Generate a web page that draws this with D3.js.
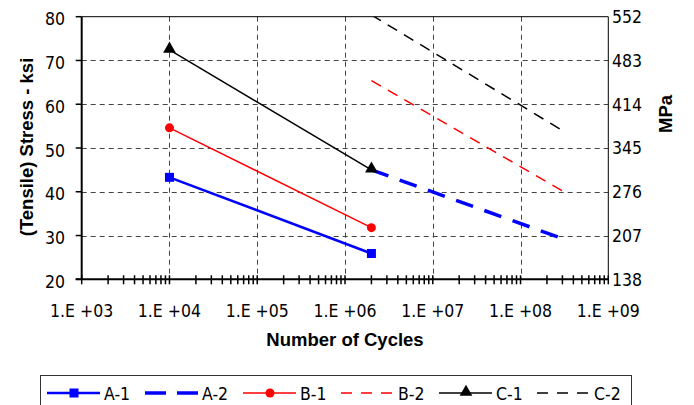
<!DOCTYPE html>
<html>
<head>
<meta charset="utf-8">
<script src="https://cdn.jsdelivr.net/npm/d3@7"></script>
<style>
  body { margin: 0; background: #fff; }
  svg { display: block; }
  .tick-label { font-family: "DejaVu Sans Condensed", sans-serif; font-stretch: condensed; font-size: 17.5px; fill: #000; }
  .title { font-family: "Liberation Sans", Arial, sans-serif; font-weight: bold; font-size: 18.5px; fill: #000; }
</style>
</head>
<body>
<script>
// cycles at which each pair of points sits
var cycles1 = [1e4, 2e6];
var cycles2 = [2e6, 3e8];

// stress in ksi
var a1 = [43.3, 25.9];
var a2 = [45.0, 29.3];
var b1 = [54.6, 31.8];
var b2 = [65.4, 40.2];
var c1 = [72.4, 45.0];
var c2 = [80.4, 54.0];

var ksiTicks = [20, 30, 40, 50, 60, 70, 80];
var mpaTicks = [138, 207, 276, 345, 414, 483, 552];
var cycleTicks = [1e3, 1e4, 1e5, 1e6, 1e7, 1e8, 1e9];
var cycleLabels = ["1.E +03", "1.E +04", "1.E +05", "1.E +06", "1.E +07", "1.E +08", "1.E +09"];

var series = [
  { name: "A-1", x: cycles1, y: a1, color: "#0000ff", width: 2.5, dash: null, marker: "square" },
  { name: "A-2", x: cycles2, y: a2, color: "#0000ff", width: 3.5, dash: "18,12", marker: null },
  { name: "B-1", x: cycles1, y: b1, color: "#ff0000", width: 1.5, dash: null, marker: "circle" },
  { name: "B-2", x: cycles2, y: b2, color: "#ff0000", width: 1.5, dash: "11,8", marker: null },
  { name: "C-1", x: cycles1, y: c1, color: "#000000", width: 1.5, dash: null, marker: "triangle" },
  { name: "C-2", x: cycles2, y: c2, color: "#000000", width: 1.5, dash: "11,8", marker: null }
];

var width = 694, height = 405;
var pLeft = 81.7, pRight = 608.3, pTop = 16.7, pBottom = 279.3;

var svg = d3.select("body").append("svg")
  .attr("width", width)
  .attr("height", height);

var x = d3.scaleLog().domain([1e3, 1e9]).range([pLeft, pRight]);
var y = d3.scaleLinear().domain([20, 80]).range([pBottom, pTop]);
var yR = d3.scaleLinear().domain([20 * 6.895, 80 * 6.895]).range([pBottom, pTop]);

svg.append("clipPath").attr("id", "plot")
  .append("rect").attr("x", pLeft).attr("y", pTop)
  .attr("width", pRight - pLeft).attr("height", pBottom - pTop);

// grid
svg.append("g").selectAll("line")
  .data(ksiTicks.slice(1, -1))
  .enter().append("line")
  .attr("x1", pLeft).attr("x2", pRight)
  .attr("y1", function(d){ return Math.round(y(d)) + 0.5; })
  .attr("y2", function(d){ return Math.round(y(d)) + 0.5; })
  .attr("stroke", "#444").attr("stroke-dasharray", "5,4");

svg.append("g").selectAll("line")
  .data(cycleTicks.slice(1, -1))
  .enter().append("line")
  .attr("y1", pTop).attr("y2", pBottom)
  .attr("x1", function(d){ return Math.round(x(d)) + 0.5; })
  .attr("x2", function(d){ return Math.round(x(d)) + 0.5; })
  .attr("stroke", "#444").attr("stroke-dasharray", "5,4");

// top and right border
svg.append("path")
  .attr("d", "M" + pLeft + "," + pTop + "H" + pRight + "V" + pBottom)
  .attr("fill", "none").attr("stroke", "#000").attr("stroke-width", 1);

// x axis with minor ticks crossing the line
var minor = [];
for (var e = 3; e < 9; e++) {
  for (var m = 1; m < 10; m++) minor.push(m * Math.pow(10, e));
}
minor.push(1e9);

var xAxis = svg.append("g");
xAxis.append("line")
  .attr("x1", pLeft - 6).attr("x2", pRight)
  .attr("y1", pBottom).attr("y2", pBottom)
  .attr("stroke", "#000").attr("stroke-width", 2);
xAxis.selectAll(".mt")
  .data(minor)
  .enter().append("line")
  .attr("x1", function(d){ return x(d); })
  .attr("x2", function(d){ return x(d); })
  .attr("y1", pBottom - 4).attr("y2", pBottom + 5)
  .attr("stroke", "#000").attr("stroke-width", 1.5);
xAxis.selectAll("text")
  .data(cycleTicks)
  .enter().append("text")
  .attr("class", "tick-label")
  .attr("x", function(d){ return x(d); })
  .attr("y", 317)
  .attr("text-anchor", "middle")
  .text(function(d, i){ return cycleLabels[i]; });

// left axis
var yAxis = svg.append("g");
yAxis.append("line")
  .attr("x1", pLeft).attr("x2", pLeft)
  .attr("y1", pTop).attr("y2", pBottom)
  .attr("stroke", "#000").attr("stroke-width", 2);
yAxis.selectAll(".t")
  .data(ksiTicks)
  .enter().append("line")
  .attr("x1", pLeft - 6).attr("x2", pLeft)
  .attr("y1", function(d){ return y(d); })
  .attr("y2", function(d){ return y(d); })
  .attr("stroke", "#000").attr("stroke-width", 1.5);
yAxis.selectAll("text")
  .data(ksiTicks)
  .enter().append("text")
  .attr("class", "tick-label")
  .attr("x", 65)
  .attr("y", function(d){ return y(d) + 8.5; })
  .attr("text-anchor", "end")
  .text(function(d){ return d; });

// right axis labels
svg.append("g").selectAll("text")
  .data(mpaTicks)
  .enter().append("text")
  .attr("class", "tick-label")
  .attr("x", 612)
  .attr("y", function(d){ return yR(d) + 6.5; })
  .text(function(d){ return d; });

// titles
svg.append("text").attr("class", "title")
  .attr("transform", "translate(33,147) rotate(-90)")
  .attr("text-anchor", "middle")
  .text("(Tensile) Stress - ksi");
svg.append("text").attr("class", "title")
  .attr("transform", "translate(672,114) rotate(-90)")
  .attr("text-anchor", "middle")
  .text("MPa");
svg.append("text").attr("class", "title")
  .attr("x", (pLeft + pRight) / 2).attr("y", 346)
  .attr("text-anchor", "middle")
  .text("Number of Cycles");

// series
var line = d3.line()
  .x(function(d){ return x(d[0]); })
  .y(function(d){ return y(d[1]); });

var plot = svg.append("g").attr("clip-path", "url(#plot)");

function drawMarker(g, type, cx, cy, color) {
  if (type === "square") {
    g.append("rect").attr("x", cx - 4.5).attr("y", cy - 4.5)
      .attr("width", 9).attr("height", 9).attr("fill", color);
  } else if (type === "circle") {
    g.append("circle").attr("cx", cx).attr("cy", cy).attr("r", 4.5).attr("fill", color);
  } else if (type === "triangle") {
    g.append("path")
      .attr("d", d3.symbol().type(d3.symbolTriangle).size(70)())
      .attr("transform", "translate(" + cx + "," + (cy - 1) + ")")
      .attr("fill", color);
  }
}

series.forEach(function(s){
  var pts = s.x.map(function(v, i){ return [v, s.y[i]]; });
  plot.append("path")
    .datum(pts)
    .attr("d", line)
    .attr("fill", "none")
    .attr("stroke", s.color)
    .attr("stroke-width", s.width)
    .attr("stroke-dasharray", s.dash);
});

series.forEach(function(s){
  if (!s.marker) return;
  s.x.forEach(function(v, i){
    drawMarker(svg, s.marker, x(v), y(s.y[i]), s.color);
  });
});

// legend
var legend = svg.append("g");
legend.append("rect")
  .attr("x", 40.5).attr("y", 375.5)
  .attr("width", 591).attr("height", 40)
  .attr("fill", "#fff").attr("stroke", "#333");

series.forEach(function(s, i){
  var lx = 47 + i * 98, ly = 393;
  legend.append("line")
    .attr("x1", lx).attr("x2", lx + 53)
    .attr("y1", ly).attr("y2", ly)
    .attr("stroke", s.color)
    .attr("stroke-width", s.width)
    .attr("stroke-dasharray", s.dash ? (i === 1 ? "21,11" : "11,9") : null);
  if (s.marker) drawMarker(legend, s.marker, lx + 27, ly, s.color);
  legend.append("text")
    .attr("class", "tick-label")
    .attr("x", lx + 57).attr("y", ly + 7)
    .attr("font-size", "18px")
    .text(s.name);
});
</script>
</body>
</html>
